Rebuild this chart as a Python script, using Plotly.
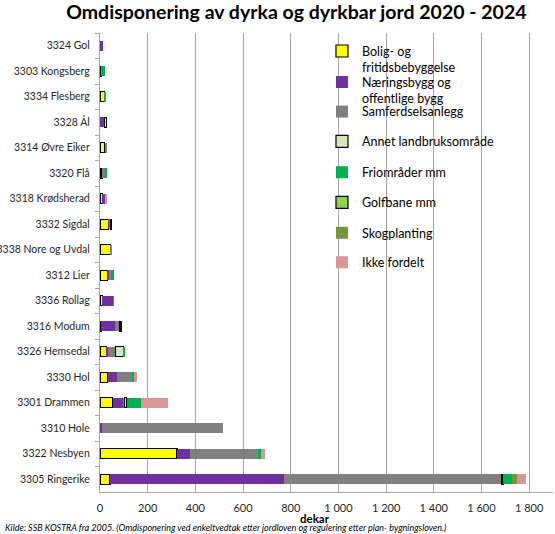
import plotly.graph_objects as go

categories = ["3324 Gol", "3303 Kongsberg", "3334 Flesberg", "3328 Ål", "3314 Øvre Eiker",
              "3320 Flå", "3318 Krødsherad", "3332 Sigdal", "3338 Nore og Uvdal", "3312 Lier",
              "3336 Rollag", "3316 Modum", "3326 Hemsedal", "3330 Hol", "3301 Drammen",
              "3310 Hole", "3322 Nesbyen", "3305 Ringerike"]

bolig =       [None, 6, 18, None, 20, 8, 10, 35, 43, 32, 10, 5, 27, 32, 53, None, 323, 42]
naering =     [11, None, None, 18, None, None, 15, 6, None, 7, 45, 59, 5, 39, 46, 7, 53, 730]
samferdsel =  [None, 2, None, None, 9, 14, None, 3, 6, 10, None, 18, 34, 66, 3, 510, 285, 911]
annet =       [None, None, None, 9, None, None, None, 4, None, None, None, 6, 33, None, 10, None, None, 7]
friomrader =  [None, 12, 3, None, None, 9, None, None, None, 8, 3, None, 4, 6, 59, None, 13, 36]
golfbane =    [None] * 18
skog =        [None, None, 4, None, None, None, None, None, None, None, None, None, None, None, None, None, None, 25]
ikke_fordelt = [None, None, None, None, None, None, 4, None, None, None, None, None, None, 12, 116, None, 17, 35]

series_names = ["Bolig- og<br>fritidsbebyggelse", "Næringsbygg og<br>offentlige bygg",
                "Samferdselsanlegg", "Annet landbruksområde", "Friområder mm",
                "Golfbane mm", "Skogplanting", "Ikke fordelt"]
series_values = [bolig, naering, samferdsel, annet, friomrader, golfbane, skog, ikke_fordelt]

styles = [
    ("#FFFF00", "#000000", 1.2),
    ("#7030A0", "#7030A0", 0),
    ("#808080", "#808080", 0),
    ("#D8E4BC", "#000000", 1.2),
    ("#00B050", "#00B050", 0),
    ("#92D050", "#000000", 1.2),
    ("#77933C", "#77933C", 0),
    ("#D99694", "#D99694", 0),
]
legend_y = [0.9425, 0.875, 0.828, 0.763, 0.696, 0.630, 0.564, 0.4996]

xticks = [0, 200, 400, 600, 800, 1000, 1200, 1400, 1600, 1800]
xticktext = ["0", "200", "400", "600", "800", "1 000", "1 200", "1 400", "1 600", "1 800"]

font_family = "Lato, 'Open Sans', sans-serif"

fig = go.Figure()
legend_layouts = {}
for i, (name, vals, (color, lcolor, lw)) in enumerate(zip(series_names, series_values, styles)):
    lg = "legend" if i == 0 else f"legend{i+1}"
    fig.add_trace(go.Bar(
        y=categories, x=vals, name=name, orientation="h", legend=lg,
        marker=dict(color=color, line=dict(color=lcolor, width=lw)),
    ))
    legend_layouts[lg] = dict(x=0.49, y=legend_y[i], xanchor="left", yanchor="middle",
                              valign="top", bgcolor="rgba(0,0,0,0)",
                              font=dict(size=12.5, color="#000000", family=font_family),
                              itemwidth=30)

fig.update_layout(
    width=555, height=534,
    barmode="stack", bargap=0.6,
    paper_bgcolor="white", plot_bgcolor="white",
    margin=dict(l=100, r=2, t=33, b=42, autoexpand=False),
    font=dict(family=font_family, size=11, color="#262626"),
    title=dict(text="<b>Omdisponering av dyrka og dyrkbar jord 2020 - 2024</b>",
               x=0.534, xanchor="center", y=1 - 12.5 / 534, yanchor="middle",
               font=dict(size=19.5, color="#000000", family=font_family)),
    showlegend=True,
    **legend_layouts,
)

fig.update_xaxes(range=[0, 1900], tickvals=xticks, ticktext=xticktext, automargin=False,
                 showgrid=True, gridcolor="#A6A6A6", gridwidth=1.3,
                 showline=True, linecolor="#A6A6A6", linewidth=1.3,
                 ticks="", ticklabelstandoff=6,
                 zeroline=False, tickfont=dict(size=11))
fig.update_yaxes(autorange="reversed", showgrid=False, showline=True, automargin=False,
                 linecolor="#A6A6A6", linewidth=1.3,
                 ticks="outside", tickson="boundaries", ticklen=4, tickcolor="#A6A6A6",
                 ticklabelstandoff=7, tickfont=dict(size=10.5))

fig.add_annotation(text="<b>dekar</b>", xref="paper", yref="paper",
                   x=(315 - 100) / 453, y=(492 - 518.5) / 459, xanchor="center", yanchor="middle",
                   showarrow=False, font=dict(size=11.5, color="#000000"))
fig.add_annotation(text="<i>Kilde: SSB KOSTRA fra 2005. (Omdisponering ved enkeltvedtak etter jordloven og regulering etter plan- bygningsloven.)</i>",
                   xref="paper", yref="paper", x=(3 - 100) / 453, y=(492 - 527.5) / 459,
                   xanchor="left", yanchor="middle",
                   showarrow=False, font=dict(size=9, color="#000000"))

fig.write_html("out.html", config={"displayModeBar": False},
               post_script="document.body.style.margin='0';")
